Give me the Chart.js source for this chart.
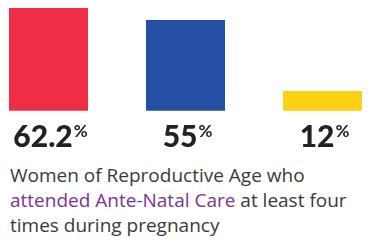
<!DOCTYPE html>
<html>
<head>
<meta charset="utf-8">
<script src="https://cdn.jsdelivr.net/npm/chart.js@4.4.1/dist/chart.umd.min.js"></script>
<style>
  html, body { margin: 0; padding: 0; background: #fff; }
  body { width: 374px; height: 246px; overflow: hidden; position: relative; }
  #wrap { position: absolute; left: 0; top: 0; width: 374px; height: 160px; }
  #caption { position: absolute; left: 10px; top: 163px; width: 370px; font-family: "Open Sans", sans-serif; font-size: 19px; line-height: 25px; color: #3a3a3a; white-space: nowrap; }
  #caption .hl { color: #7b348f; }
</style>
</head>
<body>
<div id="wrap"><canvas id="c" width="374" height="160"></canvas></div>
<div id="caption">Women of Reproductive Age who<br><span class="hl">attended Ante-Natal Care</span> at least four<br>times during pregnancy</div>
<script>
const categories = ["Group A", "Group B", "Group C"];
const values = [62.2, 55, 12];
const valueLabels = ["62.2", "55", "12"];
const barColors = ["#ef2e45", "#244fa3", "#fbd116"];

const labelPlugin = {
  id: 'valueLabels',
  afterDatasetsDraw(chart) {
    const ctx = chart.ctx;
    const meta = chart.getDatasetMeta(0);
    ctx.save();
    ctx.fillStyle = '#222222';
    ctx.textBaseline = 'alphabetic';
    meta.data.forEach((bar, i) => {
      const num = valueLabels[i];
      ctx.font = '900 30px Lato, sans-serif';
      const wNum = ctx.measureText(num).width;
      ctx.font = 'bold 17px Lato, sans-serif';
      const wPct = ctx.measureText('%').width;
      const total = wNum + 1 + wPct;
      const x0 = bar.x + 2 - total / 2;
      const base = 147;
      ctx.font = '900 30px Lato, sans-serif';
      ctx.textAlign = 'left';
      ctx.fillText(num, x0, base);
      ctx.font = 'bold 17px Lato, sans-serif';
      ctx.fillText('%', x0 + wNum + 1, base - 10);
    });
    ctx.restore();
  }
};

new Chart(document.getElementById('c'), {
  type: 'bar',
  data: {
    labels: categories,
    datasets: [{
      data: values,
      backgroundColor: barColors,
      borderWidth: 0,
      categoryPercentage: 1,
      barPercentage: 0.577,
      clip: false
    }]
  },
  options: {
    responsive: false,
    animation: false,
    events: [],
    layout: { padding: { left: 48.5, right: 51.5, top: 8, bottom: 49.3 } },
    plugins: { legend: { display: false }, tooltip: { enabled: false }, title: { display: false } },
    scales: {
      x: { display: false, offset: false, grid: { display: false } },
      y: { display: false, min: 0, max: 62.2, grid: { display: false } }
    }
  },
  plugins: [labelPlugin]
});
</script>
</body>
</html>
